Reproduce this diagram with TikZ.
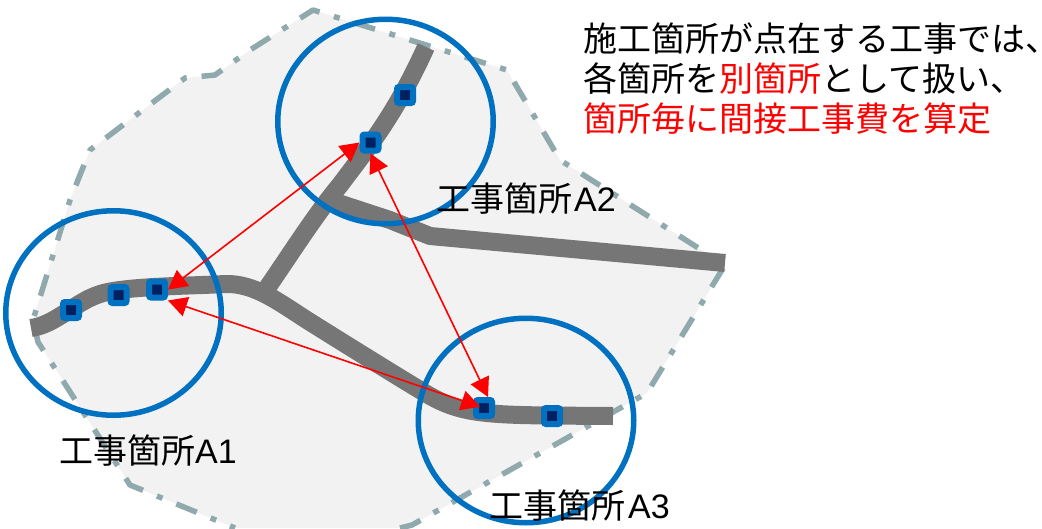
\documentclass[tikz,border=0pt]{standalone}
\usepackage{fontspec}
\setmainfont{Liberation Sans}
\newfontfamily\cjk{Noto Sans CJK JP}
\usetikzlibrary{arrows.meta,shapes.geometric}
\definecolor{sitefill}{HTML}{F2F2F2}
\definecolor{siteedge}{HTML}{8FA9AC}
\definecolor{roadgray}{HTML}{767676}
\definecolor{ringblue}{HTML}{0070C0}
\definecolor{coredark}{HTML}{002060}
\tikzset{
  x=1pt,y=-1pt,
  siteedgeline/.style={draw=siteedge,line width=5.5pt,dash pattern=on 22pt off 15pt on 6pt off 15pt,line join=round},
  road/.style={draw=roadgray,line width=18pt,line join=round},
  ring/.style={ellipse,draw=ringblue,line width=5.5pt,minimum width=215.5pt,minimum height=204.5pt,inner sep=0pt,outer sep=0pt},
  post/.style={rectangle,draw=ringblue,fill=coredark,line width=6pt,rounded corners=2pt,minimum size=16pt,inner sep=0pt},
  link/.style={draw=red,line width=1.6pt,{Triangle[length=19pt,width=20pt]}-{Triangle[length=19pt,width=20pt]}},
  lab/.style={font=\fontsize{34}{40}\selectfont,inner sep=0pt,anchor=base west},
}
\begin{document}
\begin{tikzpicture}
\useasboundingbox (0,0) rectangle (1042,528);
% site area
\fill[sitefill] (313,10) -- (507,70) -- (560,160) -- (725,265) -- (647,393) -- (412,525) -- (400,528) -- (235,528) -- (223,523) -- (130,485) -- (38,342) -- (33,320) -- (70,200) -- (90,150) -- (185,78) -- (215,75) -- (250,50) -- cycle;
\draw[siteedgeline] (400,528) -- (412,525) -- (647,393) -- (725,265) -- (560,160) -- (507,70) -- (313,10) -- (250,50) -- (215,75) -- (185,78) -- (90,150) -- (70,200) -- (33,320) -- (38,342) -- (130,485) -- (223,523) -- (235,528);
% roads
\draw[road] (31,328) .. controls (55,325) and (75,302) .. (100,294) .. controls (125,286) and (190,286) .. (225,284) .. controls (255,283) and (280,303) .. (310,322) .. controls (350,347) and (395,375) .. (425,393) .. controls (465,417) and (490,415) .. (613,416);
\draw[road] (263,294) .. controls (290,255) and (315,215) .. (340,185) .. controls (370,145) and (395,115) .. (426,47);
\draw[road] (335,202) -- (390,220) -- (430,236) -- (725,263);
% rings
\node[ring] (r1) at (113.5,313) {};
\node[ring] (r2) at (385.5,121.5) {};
\node[ring] (r3) at (526,420.5) {};
% posts
\node[post] (s1) at (71,310) {};
\node[post] (s2) at (118.5,295) {};
\node[post] (s3) at (157,289.5) {};
\node[post] (s4) at (405,95) {};
\node[post] (s5) at (370.5,142.5) {};
\node[post] (s6) at (484,408) {};
\node[post] (s7) at (552,416) {};
% links
\draw[link] (s3.east) -- (s5.west);
\draw[link] (s5.south) -- (s6.70);
\draw[link,shorten >=4pt] (s3.south east) -- (s6.center);
% labels
\node[lab] (t1) at (59,463) {{\cjk 工事箇所}A1};
\node[lab] (t2) at (436,211) {{\cjk 工事箇所}\hspace{2pt}A2};
\node[lab] (t3) at (489,518) {{\cjk 工事箇所}\hspace{3pt}A3};
\node[lab,align=left,anchor=north west] (t4) at (583,23) {{\cjk 施工箇所が点在する工事では、}\\{\cjk 各箇所を\textcolor{red}{別箇所}として扱い、}\\{\cjk\color{red} 箇所毎に間接工事費を算定}};
\end{tikzpicture}
\end{document}
